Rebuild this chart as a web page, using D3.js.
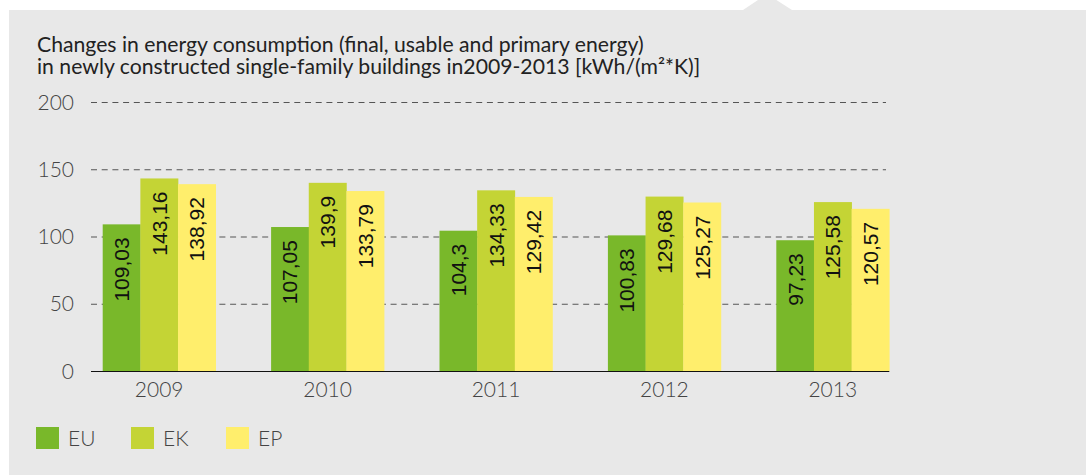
<!DOCTYPE html>
<html>
<head>
    <title>Energy consumption 2009-2013</title>
    <script src="https://cdn.jsdelivr.net/npm/d3@7"></script>
    <style>
        body { margin: 0; background: #fff; }
        svg text { font-family: Lato, "Open Sans", sans-serif; }
    </style>
</head>
<body>
<svg id="chart" width="1086" height="475"></svg>
<script>
    var years = ["2009", "2010", "2011", "2012", "2013"];
    var seriesNames = ["EU", "EK", "EP"];
    var euValues = [109.03, 107.05, 104.3, 100.83, 97.23];
    var ekValues = [143.16, 139.9, 134.33, 129.68, 125.58];
    var epValues = [138.92, 133.79, 129.42, 125.27, 120.57];
    var yTicks = [0, 50, 100, 150, 200];
    var colors = ["#79b82a", "#c4d435", "#ffee6c"];
    var titleLines = [
        "Changes in energy consumption (final, usable and primary energy)",
        "in newly constructed single-family buildings in2009-2013 [kWh/(m\u00b2*K)]"
    ];

    var svg = d3.select("#chart");

    // grey panel with the small notch on top
    svg.append("rect")
        .attr("x", 9).attr("y", 10)
        .attr("width", 1077).attr("height", 465)
        .attr("fill", "#e8e8e8");
    svg.append("path")
        .attr("d", "M743,10 L767,-6 L792,10 Z")
        .attr("fill", "#e8e8e8");

    svg.selectAll(".title")
        .data(titleLines)
        .enter()
        .append("text")
        .attr("x", 37)
        .attr("y", (d, i) => 52 + i * 22.3)
        .attr("font-size", 21.2)
        .attr("fill", "#222")
        .text(d => d);

    var x = d3.scaleBand()
        .domain(years)
        .range([102.7, 889.3])
        .paddingInner(0.329)
        .paddingOuter(0);

    var x1 = d3.scaleBand()
        .domain(seriesNames)
        .range([0, x.bandwidth()]);

    var y = d3.scaleLinear()
        .domain([0, 200])
        .range([371, 102]);

    // dashed grid
    svg.selectAll(".grid")
        .data(yTicks.filter(d => d > 0))
        .enter()
        .append("line")
        .attr("x1", 91).attr("x2", 886)
        .attr("y1", d => y(d) + 0.5).attr("y2", d => y(d) + 0.5)
        .attr("stroke", "#555")
        .attr("stroke-width", 1)
        .attr("stroke-dasharray", "6,4.7");

    // y tick labels
    svg.selectAll(".ytick")
        .data(yTicks)
        .enter()
        .append("text")
        .attr("x", 74)
        .attr("y", d => y(d))
        .attr("dy", "0.36em")
        .attr("text-anchor", "end")
        .attr("font-size", 21)
        .attr("font-weight", 300)
        .attr("fill", "#444")
        .text(d => d);

    var rows = [];
    years.forEach(function(yr, i) {
        var vals = [euValues[i], ekValues[i], epValues[i]];
        vals.forEach(function(v, j) {
            rows.push({ year: yr, series: seriesNames[j], value: v, color: colors[j] });
        });
    });

    var groups = svg.selectAll(".bar")
        .data(rows)
        .enter()
        .append("g");

    groups.append("rect")
        .attr("x", d => x(d.year) + x1(d.series))
        .attr("y", d => y(d.value))
        .attr("width", x1.bandwidth() + 0.3)
        .attr("height", d => y(0) - y(d.value))
        .attr("fill", d => d.color);

    groups.append("text")
        .attr("transform", function(d) {
            var cx = x(d.year) + x1(d.series) + x1.bandwidth() / 2;
            var cy = y(d.value) + 13;
            return "translate(" + cx + "," + cy + ") rotate(-90)";
        })
        .attr("text-anchor", "end")
        .attr("dy", "0.36em")
        .style("font-family", "'Liberation Sans', Arial, sans-serif")
        .attr("font-size", 21)
        .attr("fill", "#111")
        .text(d => String(d.value).replace(".", ","));

    // baseline
    svg.append("line")
        .attr("x1", 91).attr("x2", 889.3)
        .attr("y1", y(0) + 0.5).attr("y2", y(0) + 0.5)
        .attr("stroke", "#111")
        .attr("stroke-width", 1.2);

    svg.selectAll(".xtick")
        .data(years)
        .enter()
        .append("text")
        .attr("x", d => x(d) + x.bandwidth() / 2)
        .attr("y", 397)
        .attr("text-anchor", "middle")
        .attr("font-size", 21)
        .attr("font-weight", 300)
        .attr("fill", "#444")
        .text(d => d);

    // legend
    var legend = svg.selectAll(".legend")
        .data(seriesNames)
        .enter()
        .append("g")
        .attr("transform", (d, i) => "translate(" + (36 + i * 95) + ",427)");

    legend.append("rect")
        .attr("width", 23).attr("height", 22)
        .attr("fill", (d, i) => colors[i]);

    legend.append("text")
        .attr("x", 32).attr("y", 19)
        .attr("font-size", 21)
        .attr("font-weight", 300)
        .attr("fill", "#444")
        .text(d => d);
</script>
</body>
</html>
